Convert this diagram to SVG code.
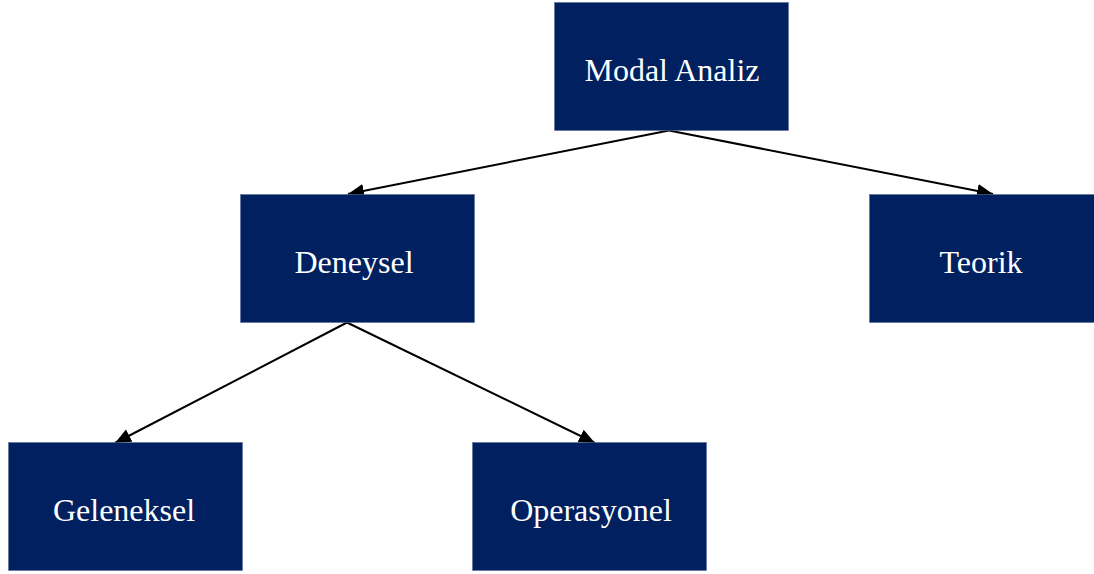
<svg xmlns="http://www.w3.org/2000/svg" width="1094" height="574" viewBox="0 0 1094 574">
  <style>
    .box { fill: #002060; stroke: #5a6f9a; stroke-width: 0.6; }
    .lbl { fill: #ffffff; font-family: "Liberation Serif", "Times New Roman", serif; font-size: 32px; text-anchor: middle; }
    .edge { stroke: #000000; stroke-width: 2; fill: none; marker-end: url(#arrow); }
  </style>
  <defs>
    <marker id="arrow" markerUnits="userSpaceOnUse" markerWidth="17" markerHeight="15" refX="16" refY="7" orient="auto">
      <path d="M0,0 L16,7 L0,14 z" fill="#000000"/>
    </marker>
  </defs>
  <rect width="1094" height="574" fill="#ffffff"/>
  <g id="connectors">
    <line class="edge" x1="669" y1="130.5" x2="348" y2="194"/>
    <line class="edge" x1="669" y1="130.5" x2="993" y2="194"/>
    <line class="edge" x1="347" y1="322.5" x2="115" y2="443"/>
    <line class="edge" x1="347" y1="322.5" x2="595" y2="443"/>
  </g>
  <g id="node-modal-analiz">
    <rect class="box" x="554.5" y="2.5" width="234" height="128"/>
    <text class="lbl" x="672" y="80.5">Modal Analiz</text>
  </g>
  <g id="node-deneysel">
    <rect class="box" x="240.5" y="194.5" width="234" height="128"/>
    <text class="lbl" x="354" y="272.5">Deneysel</text>
  </g>
  <g id="node-teorik">
    <rect class="box" x="869.5" y="194.5" width="234" height="128"/>
    <text class="lbl" x="981" y="272.5">Teorik</text>
  </g>
  <g id="node-geleneksel">
    <rect class="box" x="8.5" y="442.5" width="234" height="128"/>
    <text class="lbl" x="124" y="520.5">Geleneksel</text>
  </g>
  <g id="node-operasyonel">
    <rect class="box" x="472.5" y="442.5" width="234" height="128"/>
    <text class="lbl" x="591" y="520.5">Operasyonel</text>
  </g>
</svg>
